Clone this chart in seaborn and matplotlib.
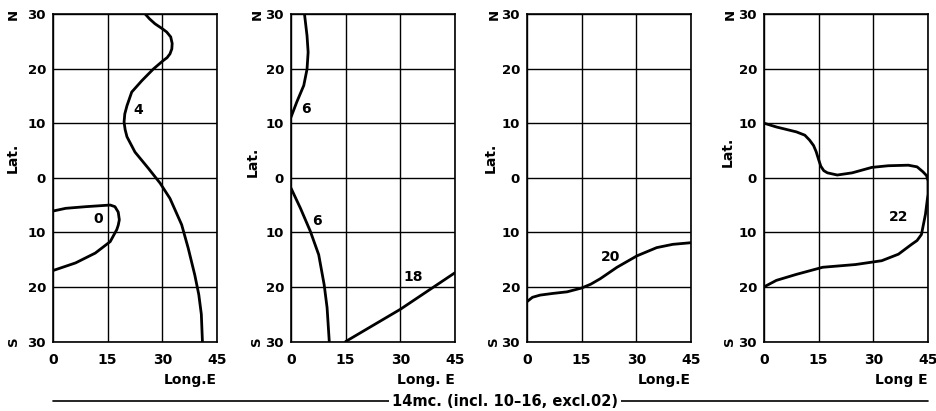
import matplotlib
matplotlib.use("Agg")
import matplotlib.pyplot as plt
import seaborn as sns
from matplotlib.lines import Line2D

sns.set_style("white")
plt.rcParams['font.family'] = ['DejaVu Sans']
plt.rcParams['text.color'] = 'black'
plt.rcParams['axes.labelcolor'] = 'black'
plt.rcParams['xtick.color'] = 'black'
plt.rcParams['ytick.color'] = 'black'

# ---- data (lon E, lat; south negative) ----
lon_ticks = [0, 15, 30, 45]
lat_ticks = [-30, -20, -10, 0, 10, 20, 30]

# panel 1
p1_c0_lon = [0, 3.5, 9, 15.7, 17.0, 17.9, 18.2, 17.9, 17.5, 15.7, 11.6, 6.2, 0]
p1_c0_lat = [-6.1, -5.6, -5.3, -5.0, -5.3, -6.3, -7.7, -8.7, -9.5, -11.7, -13.8, -15.6, -17.0]
p1_c4_lon = [25.3, 26.5, 28, 30, 31.2, 32.3, 32.7, 32.6, 32.1, 31.3, 30.3, 27.5, 24.4, 21.6,
             20.3, 19.7, 19.5, 19.8, 20.3, 22.5, 26.2, 29.4, 32.1, 35.3, 37.1, 38.9, 40, 40.7, 41]
p1_c4_lat = [30, 29.1, 28.2, 27.3, 26.7, 25.8, 24.6, 23.6, 22.7, 22.0, 21.5, 19.9, 17.8, 15.7,
             13.2, 11.7, 10.2, 8.8, 7.5, 4.7, 1.7, -1, -3.8, -8.6, -12.9, -17.8, -21.4, -25, -30]

# panel 2
p2_c6a_lon = [0, 1.6, 3.5, 4.4, 4.7, 4.4, 3.7]
p2_c6a_lat = [11.1, 13.9, 16.9, 19.9, 23, 26, 30]
p2_c6b_lon = [0, 2.6, 5.3, 7.6, 9.1, 9.9, 10.5]
p2_c6b_lat = [-1.9, -5.6, -9.8, -14.1, -19.6, -23.8, -30]
p2_c18_lon = [15, 30, 45]
p2_c18_lat = [-30, -24.1, -17.4]

# panel 3
p3_c20_lon = [0, 1.5, 3.6, 7, 11, 15, 17.5, 20.1, 24.7, 30.2, 35.6, 40, 45]
p3_c20_lat = [-22.7, -21.9, -21.5, -21.2, -20.9, -20.2, -19.5, -18.5, -16.4, -14.3, -12.8, -12.2, -11.9]

# panel 4
p4_c22_lon = [0, 3.4, 8.9, 11.2, 12.5, 13.6, 14.3, 15.0, 15.6, 16.4, 17.4, 20.1, 24.2, 29.6, 34.1,
              39.6, 42.0, 43.6, 44.6, 45, 45, 44.3, 43.2, 42.0, 40.5, 36.9, 32.3, 25.1, 16.1, 8.9, 3.4, 0]
p4_c22_lat = [10, 9.3, 8.4, 7.8, 6.9, 5.9, 4.8, 3.3, 2.1, 1.3, 0.9, 0.5, 0.9, 1.9, 2.2,
              2.3, 2.0, 1.1, 0.4, -0.6, -3, -6.7, -10.4, -11.5, -12.2, -14, -15.2, -15.9, -16.4, -17.7, -18.8, -20]

panels = [
    {"curves": [(p1_c0_lon, p1_c0_lat), (p1_c4_lon, p1_c4_lat)],
     "labels": [("4", 23.3, 12.5), ("0", 12.4, -7.6)], "xlabel": "Long.E"},
    {"curves": [(p2_c6a_lon, p2_c6a_lat), (p2_c6b_lon, p2_c6b_lat), (p2_c18_lon, p2_c18_lat)],
     "labels": [("6", 4.2, 12.6), ("6", 7.1, -8.0), ("18", 33.4, -18.2)], "xlabel": "Long. E"},
    {"curves": [(p3_c20_lon, p3_c20_lat)],
     "labels": [("20", 22.9, -14.5)], "xlabel": "Long.E"},
    {"curves": [(p4_c22_lon, p4_c22_lat)],
     "labels": [("22", 36.9, -7.1)], "xlabel": "Long E"},
]
caption = "14mc. (incl. 10\u201316, excl.02)"

fig = plt.figure(figsize=(9.37, 4.11), dpi=100)
W, H = 937, 411
lefts = [53, 291, 527, 764]
ns_off = [-40, -34, -33, -34]   # px offset of the N / S letters
lat_off = [-40, -38, -36, -36]  # px offset of "Lat."
lat_y = [0.56, 0.55, 0.56, 0.58]

for i, p in enumerate(panels):
    ax = fig.add_axes([lefts[i] / W, 1 - 341.5 / H, 164 / W, 327.5 / H])
    for lon, lat in p["curves"]:
        sns.lineplot(x=lon, y=lat, sort=False, estimator=None, ax=ax,
                     color="black", linewidth=2.0)
    for txt, x, y in p["labels"]:
        ax.text(x, y, txt, ha="center", va="center", fontsize=10, fontweight="bold")
    ax.set_xlim(0, 45)
    ax.set_ylim(-30, 30)
    ax.set_xticks(lon_ticks)
    ax.set_yticks(lat_ticks)
    ax.set_xticklabels([str(v) for v in lon_ticks], fontsize=10, fontweight="bold")
    ax.set_yticklabels([str(abs(v)) for v in lat_ticks], fontsize=9.5, fontweight="bold")
    ax.tick_params(axis="x", length=0, pad=8)
    ax.tick_params(axis="y", length=3, width=1, pad=2, color="black")
    ax.grid(True, color="black", linewidth=1.0)
    for s in ax.spines.values():
        s.set_color("black")
        s.set_linewidth(1.2)
    ax.set_xlabel(p["xlabel"], fontsize=10, fontweight="bold", ha="right")
    ax.xaxis.set_label_coords(1.0, -0.095)
    ax.set_ylabel("")
    # rotated N / S letters and Lat. label
    ax.annotate("N", xy=(0, 1), xycoords="axes fraction", xytext=(ns_off[i] * 0.72, 0),
                textcoords="offset points", rotation=90, ha="center", va="center",
                fontsize=9.5, fontweight="bold")
    ax.annotate("S", xy=(0, 0), xycoords="axes fraction", xytext=(ns_off[i] * 0.72, 0),
                textcoords="offset points", rotation=90, ha="center", va="center",
                fontsize=9.5, fontweight="bold")
    ax.annotate("Lat.", xy=(0, lat_y[i]), xycoords="axes fraction", xytext=(lat_off[i] * 0.72, 0),
                textcoords="offset points", rotation=90, ha="center", va="center",
                fontsize=10, fontweight="bold")

# caption rule with centred text
ly = 1 - 401 / H
fig.add_artist(Line2D([53 / W, 928 / W], [ly, ly], color="black", linewidth=1.2))
fig.text(505 / W, ly, caption, ha="center", va="center", fontsize=10.5, fontweight="bold",
         bbox=dict(facecolor="white", edgecolor="none", pad=2))

fig.savefig("out.png", dpi=100)
